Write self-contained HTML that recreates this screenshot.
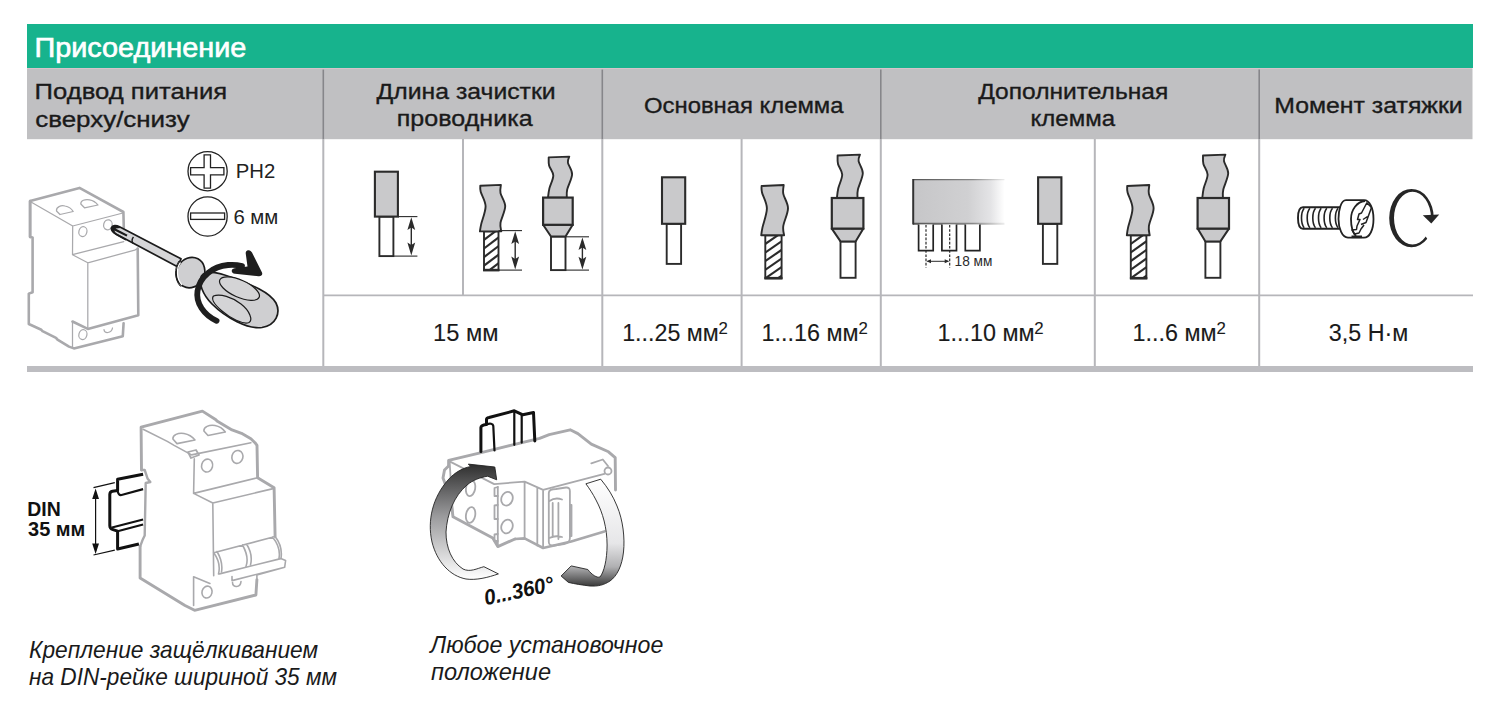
<!DOCTYPE html>
<html><head><meta charset="utf-8">
<style>
html,body{margin:0;padding:0;background:#fff;width:1500px;height:705px;overflow:hidden}
svg{display:block}
text{font-family:"Liberation Sans",sans-serif}
</style></head>
<body>
<svg width="1500" height="705" viewBox="0 0 1500 705">
<rect x="0" y="0" width="1500" height="705" fill="#fff"/>
<rect x="27" y="24" width="1446" height="44" fill="#17b38d"/>
<rect x="27" y="69" width="1445.5" height="70.2" fill="#c0c0c2"/>
<rect x="27" y="68" width="1445.5" height="1" fill="#d6c4cb"/>
<line x1="323.3" y1="69.6" x2="323.3" y2="139" stroke="#86868a" stroke-width="1.6"/>
<line x1="602.3" y1="69.6" x2="602.3" y2="139" stroke="#86868a" stroke-width="1.6"/>
<line x1="880.8" y1="69.6" x2="880.8" y2="139" stroke="#86868a" stroke-width="1.6"/>
<line x1="1259.2" y1="69.6" x2="1259.2" y2="139" stroke="#86868a" stroke-width="1.6"/>
<line x1="323.3" y1="139" x2="323.3" y2="366" stroke="#b6b6ba" stroke-width="2"/>
<line x1="463" y1="139" x2="463" y2="295" stroke="#b6b6ba" stroke-width="2"/>
<line x1="602.3" y1="139" x2="602.3" y2="366" stroke="#b6b6ba" stroke-width="2"/>
<line x1="741.6" y1="139" x2="741.6" y2="366" stroke="#b6b6ba" stroke-width="2"/>
<line x1="880.8" y1="139" x2="880.8" y2="366" stroke="#b6b6ba" stroke-width="2"/>
<line x1="1094.8" y1="139" x2="1094.8" y2="366" stroke="#b6b6ba" stroke-width="2"/>
<line x1="1259.2" y1="139" x2="1259.2" y2="366" stroke="#b6b6ba" stroke-width="2"/>
<line x1="323" y1="295.3" x2="1473" y2="295.3" stroke="#b6b6ba" stroke-width="1.8"/>
<rect x="27" y="366" width="1446" height="6" fill="#bdbdc1"/>
<text x="34.5" y="56.7" font-size="27.5" font-weight="400" font-style="normal" fill="#fff" textLength="211.8" lengthAdjust="spacingAndGlyphs" stroke="#fff" stroke-width="0.65">Присоединение</text>
<text x="34.6" y="98.9" font-size="22.5" font-weight="400" font-style="normal" fill="#1a1a1a" textLength="192.5" lengthAdjust="spacingAndGlyphs" stroke="#1a1a1a" stroke-width="0.35">Подвод питания</text>
<text x="35.2" y="126.8" font-size="22.5" font-weight="400" font-style="normal" fill="#1a1a1a" textLength="154.5" lengthAdjust="spacingAndGlyphs" stroke="#1a1a1a" stroke-width="0.35">сверху/снизу</text>
<text x="376.6" y="98.5" font-size="22.5" font-weight="400" font-style="normal" fill="#1a1a1a" textLength="179" lengthAdjust="spacingAndGlyphs" stroke="#1a1a1a" stroke-width="0.35">Длина зачистки</text>
<text x="396.8" y="126.3" font-size="22.5" font-weight="400" font-style="normal" fill="#1a1a1a" textLength="135.8" lengthAdjust="spacingAndGlyphs" stroke="#1a1a1a" stroke-width="0.35">проводника</text>
<text x="644" y="113" font-size="22.5" font-weight="400" font-style="normal" fill="#1a1a1a" textLength="199.5" lengthAdjust="spacingAndGlyphs" stroke="#1a1a1a" stroke-width="0.35">Основная клемма</text>
<text x="978.2" y="98.5" font-size="22.5" font-weight="400" font-style="normal" fill="#1a1a1a" textLength="190" lengthAdjust="spacingAndGlyphs" stroke="#1a1a1a" stroke-width="0.35">Дополнительная</text>
<text x="1030.6" y="126.3" font-size="22.5" font-weight="400" font-style="normal" fill="#1a1a1a" textLength="84.4" lengthAdjust="spacingAndGlyphs" stroke="#1a1a1a" stroke-width="0.35">клемма</text>
<text x="1274.2" y="113.4" font-size="22.5" font-weight="400" font-style="normal" fill="#1a1a1a" textLength="188.5" lengthAdjust="spacingAndGlyphs" stroke="#1a1a1a" stroke-width="0.35">Момент затяжки</text>
<text x="433" y="340.6" font-size="23.5" font-weight="400" font-style="normal" fill="#1a1a1a" textLength="65.5" lengthAdjust="spacingAndGlyphs" stroke="#1a1a1a" stroke-width="0.12">15 мм</text>
<text x="622.2" y="340.6" font-size="23.5" font-weight="400" font-style="normal" fill="#1a1a1a" textLength="96.5" lengthAdjust="spacingAndGlyphs" stroke="#1a1a1a" stroke-width="0.12">1...25 мм</text>
<text x="718.4" y="333.6" font-size="16.8" font-weight="400" font-style="normal" fill="#1a1a1a" stroke="#1a1a1a" stroke-width="0.12">2</text>
<text x="761.6" y="340.6" font-size="23.5" font-weight="400" font-style="normal" fill="#1a1a1a" textLength="97" lengthAdjust="spacingAndGlyphs" stroke="#1a1a1a" stroke-width="0.12">1...16 мм</text>
<text x="858.4" y="333.6" font-size="16.8" font-weight="400" font-style="normal" fill="#1a1a1a" stroke="#1a1a1a" stroke-width="0.12">2</text>
<text x="937.6" y="340.6" font-size="23.5" font-weight="400" font-style="normal" fill="#1a1a1a" textLength="97" lengthAdjust="spacingAndGlyphs" stroke="#1a1a1a" stroke-width="0.12">1...10 мм</text>
<text x="1034.3" y="333.6" font-size="16.8" font-weight="400" font-style="normal" fill="#1a1a1a" stroke="#1a1a1a" stroke-width="0.12">2</text>
<text x="1132.6" y="340.6" font-size="23.5" font-weight="400" font-style="normal" fill="#1a1a1a" textLength="84" lengthAdjust="spacingAndGlyphs" stroke="#1a1a1a" stroke-width="0.12">1...6 мм</text>
<text x="1216.5" y="333.6" font-size="16.8" font-weight="400" font-style="normal" fill="#1a1a1a" stroke="#1a1a1a" stroke-width="0.12">2</text>
<text x="1328.8" y="340.6" font-size="23.5" font-weight="400" font-style="normal" fill="#1a1a1a" textLength="79.5" lengthAdjust="spacingAndGlyphs" stroke="#1a1a1a" stroke-width="0.12">3,5 Н·м</text>
<rect x="379.4" y="216.6" width="14.0" height="39.50000000000003" fill="#fff" stroke="#2b2b2b" stroke-width="1.9"/>
<rect x="374.9" y="171.7" width="23.0" height="44.900000000000006" fill="#c9c9cb" stroke="#2b2b2b" stroke-width="2.1"/>
<g stroke="#2b2b2b" stroke-width="1.1"><line x1="398" y1="216.6" x2="417.4" y2="216.6"/><line x1="393.4" y1="256.1" x2="417.4" y2="256.1"/><line x1="411.3" y1="220.6" x2="411.3" y2="252.10000000000002" stroke-width="1.4"/></g>
<path d="M411.3,217.2 L407.40000000000003,230.1 L411.3,227.6 L415.2,230.1 Z M411.3,255.50000000000003 L407.40000000000003,242.60000000000002 L411.3,245.10000000000002 L415.2,242.60000000000002 Z" fill="#2b2b2b"/>
<clipPath id="hc1"><rect x="484" y="231.4" width="14.5" height="38.70000000000002"/></clipPath>
<rect x="484" y="231.4" width="14.5" height="38.70000000000002" fill="#fff"/>
<g clip-path="url(#hc1)" stroke="#2b2b2b" stroke-width="2.1"><line x1="482" y1="241.4" x2="500.5" y2="227.4" /><line x1="482" y1="250.0" x2="500.5" y2="236.0" /><line x1="482" y1="258.6" x2="500.5" y2="244.6" /><line x1="482" y1="267.2" x2="500.5" y2="253.2" /><line x1="482" y1="275.8" x2="500.5" y2="261.8" /><line x1="482" y1="284.40000000000003" x2="500.5" y2="270.40000000000003" /><line x1="482" y1="293.00000000000006" x2="500.5" y2="279.00000000000006" /><line x1="482" y1="301.6000000000001" x2="500.5" y2="287.6000000000001" /></g>
<rect x="484" y="231.4" width="14.5" height="38.70000000000002" fill="none" stroke="#2b2b2b" stroke-width="1.9"/>
<line x1="483.1" y1="270.1" x2="499.4" y2="270.1" stroke="#2b2b2b" stroke-width="2.6"/>
<path d="M480.30,185.80 L500.90,184.89 C500.83,186.26 499.78,189.52 500.50,193.10 C501.22,196.67 505.20,201.38 505.20,206.32 C505.20,211.26 501.15,218.56 500.50,222.74 C499.85,226.92 501.17,229.96 501.30,231.40 L479.90,231.40 C480.12,230.18 480.25,228.28 481.20,224.10 C482.15,219.92 485.68,211.72 485.60,206.32 C485.52,200.92 481.58,195.15 480.70,191.73 C479.82,188.31 480.37,186.79 480.30,185.80 Z" fill="#c9c9cb" stroke="#2b2b2b" stroke-width="1.9" stroke-linejoin="round"/>
<g stroke="#2b2b2b" stroke-width="1.1"><line x1="498.5" y1="230.6" x2="522" y2="230.6"/><line x1="498.5" y1="270.1" x2="522" y2="270.1"/><line x1="515.2" y1="234.6" x2="515.2" y2="266.1" stroke-width="1.4"/></g>
<path d="M515.2,231.2 L511.30000000000007,244.1 L515.2,241.6 L519.1,244.1 Z M515.2,269.5 L511.30000000000007,256.6 L515.2,259.1 L519.1,256.6 Z" fill="#2b2b2b"/>
<path d="M548.70,157.40 L569.30,156.60 C569.07,157.60 567.43,159.68 567.90,162.63 C568.37,165.57 572.22,169.79 572.10,174.28 C571.98,178.77 568.08,185.67 567.20,189.56 C566.32,193.45 566.87,196.26 566.80,197.60 L548.00,197.60 C548.23,196.06 548.52,192.04 549.40,188.35 C550.28,184.67 553.35,179.31 553.30,175.49 C553.25,171.67 549.87,168.45 549.10,165.44 C548.33,162.43 548.77,158.74 548.70,157.40 Z" fill="#c9c9cb" stroke="#2b2b2b" stroke-width="1.9" stroke-linejoin="round"/>
<rect x="551" y="236.5" width="14.5" height="33.60000000000002" fill="#fff" stroke="#2b2b2b" stroke-width="1.9"/>
<path d="M543.1,224.8 L551,236.5 L565.5,236.5 L572.7,224.8 Z" fill="#c9c9cb" stroke="#2b2b2b" stroke-width="2" stroke-linejoin="round"/>
<rect x="543.1" y="197.60000000000002" width="29.600000000000023" height="27.19999999999999" fill="#c9c9cb" stroke="#2b2b2b" stroke-width="2.2"/>
<g stroke="#2b2b2b" stroke-width="1.1"><line x1="565.5" y1="236.8" x2="589" y2="236.8"/><line x1="565.5" y1="270.1" x2="589" y2="270.1"/><line x1="582.4" y1="240.8" x2="582.4" y2="266.1" stroke-width="1.4"/></g>
<path d="M582.4,237.4 L578.5,250.12 L582.4,247.62 L586.3,250.12 Z M582.4,269.5 L578.5,256.78000000000003 L582.4,259.28000000000003 L586.3,256.78000000000003 Z" fill="#2b2b2b"/>
<rect x="666.7" y="223.8" width="14.399999999999977" height="40.099999999999966" fill="#fff" stroke="#2b2b2b" stroke-width="1.9"/>
<rect x="662" y="177.3" width="23.200000000000045" height="46.5" fill="#c9c9cb" stroke="#2b2b2b" stroke-width="2.1"/>
<clipPath id="hc2"><rect x="765.3" y="235.3" width="16.300000000000068" height="42.89999999999998"/></clipPath>
<rect x="765.3" y="235.3" width="16.300000000000068" height="42.89999999999998" fill="#fff"/>
<g clip-path="url(#hc2)" stroke="#2b2b2b" stroke-width="2.1"><line x1="763.3" y1="245.3" x2="783.6" y2="231.3" /><line x1="763.3" y1="253.9" x2="783.6" y2="239.9" /><line x1="763.3" y1="262.5" x2="783.6" y2="248.5" /><line x1="763.3" y1="271.1" x2="783.6" y2="257.1" /><line x1="763.3" y1="279.70000000000005" x2="783.6" y2="265.70000000000005" /><line x1="763.3" y1="288.30000000000007" x2="783.6" y2="274.30000000000007" /><line x1="763.3" y1="296.9000000000001" x2="783.6" y2="282.9000000000001" /><line x1="763.3" y1="305.5000000000001" x2="783.6" y2="291.5000000000001" /></g>
<rect x="765.3" y="235.3" width="16.300000000000068" height="42.89999999999998" fill="none" stroke="#2b2b2b" stroke-width="1.9"/>
<line x1="764.4" y1="278.2" x2="782.5" y2="278.2" stroke="#2b2b2b" stroke-width="2.6"/>
<path d="M761.60,186.00 L783.70,185.01 C783.63,186.49 782.58,190.03 783.30,193.89 C784.02,197.75 788.00,202.84 788.00,208.19 C788.00,213.53 783.95,221.41 783.30,225.93 C782.65,230.45 783.97,233.74 784.10,235.30 L761.20,235.30 C761.42,233.99 761.55,231.93 762.50,227.41 C763.45,222.89 766.98,214.02 766.90,208.19 C766.82,202.35 762.88,196.11 762.00,192.41 C761.12,188.71 761.67,187.07 761.60,186.00 Z" fill="#c9c9cb" stroke="#2b2b2b" stroke-width="1.9" stroke-linejoin="round"/>
<path d="M837.60,155.50 L860.00,154.65 C859.77,155.71 858.13,157.91 858.60,161.03 C859.07,164.14 862.92,168.60 862.80,173.35 C862.68,178.10 858.78,185.39 857.90,189.50 C857.02,193.61 857.57,196.58 857.50,198.00 L836.90,198.00 C837.13,196.37 837.42,192.12 838.30,188.22 C839.18,184.33 842.25,178.66 842.20,174.62 C842.15,170.59 838.77,167.19 838.00,164.00 C837.23,160.81 837.67,156.92 837.60,155.50 Z" fill="#c9c9cb" stroke="#2b2b2b" stroke-width="1.9" stroke-linejoin="round"/>
<rect x="840.5" y="241.4" width="15.100000000000023" height="36.400000000000006" fill="#fff" stroke="#2b2b2b" stroke-width="1.9"/>
<path d="M831.8,228.6 L840.5,241.4 L855.6,241.4 L863.4,228.6 Z" fill="#c9c9cb" stroke="#2b2b2b" stroke-width="2" stroke-linejoin="round"/>
<rect x="831.8" y="198.0" width="31.600000000000023" height="30.599999999999994" fill="#c9c9cb" stroke="#2b2b2b" stroke-width="2.2"/>
<rect x="1042.9" y="223.8" width="14.399999999999864" height="40.099999999999966" fill="#fff" stroke="#2b2b2b" stroke-width="1.9"/>
<rect x="1038.1" y="177.3" width="23.300000000000182" height="46.5" fill="#c9c9cb" stroke="#2b2b2b" stroke-width="2.1"/>
<clipPath id="hc3"><rect x="1130.8" y="235.3" width="15.600000000000136" height="42.89999999999998"/></clipPath>
<rect x="1130.8" y="235.3" width="15.600000000000136" height="42.89999999999998" fill="#fff"/>
<g clip-path="url(#hc3)" stroke="#2b2b2b" stroke-width="2.1"><line x1="1128.8" y1="245.3" x2="1148.4" y2="231.3" /><line x1="1128.8" y1="253.9" x2="1148.4" y2="239.9" /><line x1="1128.8" y1="262.5" x2="1148.4" y2="248.5" /><line x1="1128.8" y1="271.1" x2="1148.4" y2="257.1" /><line x1="1128.8" y1="279.70000000000005" x2="1148.4" y2="265.70000000000005" /><line x1="1128.8" y1="288.30000000000007" x2="1148.4" y2="274.30000000000007" /><line x1="1128.8" y1="296.9000000000001" x2="1148.4" y2="282.9000000000001" /><line x1="1128.8" y1="305.5000000000001" x2="1148.4" y2="291.5000000000001" /></g>
<rect x="1130.8" y="235.3" width="15.600000000000136" height="42.89999999999998" fill="none" stroke="#2b2b2b" stroke-width="1.9"/>
<line x1="1129.8999999999999" y1="278.2" x2="1147.3000000000002" y2="278.2" stroke="#2b2b2b" stroke-width="2.6"/>
<path d="M1127.20,186.00 L1149.30,185.01 C1149.23,186.49 1148.18,190.03 1148.90,193.89 C1149.62,197.75 1153.60,202.84 1153.60,208.19 C1153.60,213.53 1149.55,221.41 1148.90,225.93 C1148.25,230.45 1149.57,233.74 1149.70,235.30 L1126.80,235.30 C1127.02,233.99 1127.15,231.93 1128.10,227.41 C1129.05,222.89 1132.58,214.02 1132.50,208.19 C1132.42,202.35 1128.48,196.11 1127.60,192.41 C1126.72,188.71 1127.27,187.07 1127.20,186.00 Z" fill="#c9c9cb" stroke="#2b2b2b" stroke-width="1.9" stroke-linejoin="round"/>
<path d="M1203.00,155.50 L1225.40,154.65 C1225.17,155.71 1223.53,157.91 1224.00,161.03 C1224.47,164.14 1228.32,168.60 1228.20,173.35 C1228.08,178.10 1224.18,185.39 1223.30,189.50 C1222.42,193.61 1222.97,196.58 1222.90,198.00 L1202.30,198.00 C1202.53,196.37 1202.82,192.12 1203.70,188.22 C1204.58,184.33 1207.65,178.66 1207.60,174.62 C1207.55,170.59 1204.17,167.19 1203.40,164.00 C1202.63,160.81 1203.07,156.92 1203.00,155.50 Z" fill="#c9c9cb" stroke="#2b2b2b" stroke-width="1.9" stroke-linejoin="round"/>
<rect x="1205.4" y="241.4" width="15.0" height="36.400000000000006" fill="#fff" stroke="#2b2b2b" stroke-width="1.9"/>
<path d="M1197.6,228.6 L1205.4,241.4 L1220.4,241.4 L1229,228.6 Z" fill="#c9c9cb" stroke="#2b2b2b" stroke-width="2" stroke-linejoin="round"/>
<rect x="1197.6" y="198.0" width="31.40000000000009" height="30.599999999999994" fill="#c9c9cb" stroke="#2b2b2b" stroke-width="2.2"/>
<defs><linearGradient id="bb" x1="0" x2="1" y1="0" y2="0"><stop offset="0" stop-color="#c6c6c8"/><stop offset="0.6" stop-color="#d0d0d2"/><stop offset="0.85" stop-color="#e4e4e6"/><stop offset="1" stop-color="#fff"/></linearGradient><linearGradient id="bbs" gradientUnits="userSpaceOnUse" x1="913" x2="1005" y1="0" y2="0"><stop offset="0" stop-color="#555"/><stop offset="0.65" stop-color="#888"/><stop offset="1" stop-color="#eee"/></linearGradient></defs>
<rect x="913" y="179.6" width="91.5" height="44.2" fill="url(#bb)"/>
<line x1="913" y1="179.6" x2="1004.5" y2="179.6" stroke="url(#bbs)" stroke-width="1.2"/>
<line x1="913" y1="223.8" x2="1004.5" y2="223.8" stroke="url(#bbs)" stroke-width="2"/>
<line x1="913.2" y1="179" x2="913.2" y2="224.5" stroke="#333" stroke-width="2"/>
<rect x="918.6" y="224.5" width="14.6" height="26.2" fill="#fff"/>
<path d="M918.6,224.6 V250.7 H933.2 V224.6" fill="none" stroke="#222" stroke-width="1.7"/>
<rect x="941.9" y="224.5" width="14.6" height="26.2" fill="#fff"/>
<path d="M941.9,224.6 V250.7 H956.5 V224.6" fill="none" stroke="#222" stroke-width="1.7"/>
<rect x="965.3" y="224.5" width="14.6" height="26.2" fill="#fff"/>
<path d="M965.3,224.6 V250.7 H979.9 V224.6" fill="none" stroke="#222" stroke-width="1.7"/>
<g stroke="#222" stroke-width="1.15" stroke-dasharray="2.6,1.6"><line x1="926" y1="225" x2="926" y2="267.5"/><line x1="949.7" y1="225" x2="949.7" y2="267.5"/></g>
<line x1="927.5" y1="261.3" x2="948.2" y2="261.3" stroke="#2b2b2b" stroke-width="1"/>
<path d="M926.5,261.3 L931,259.3 L931,263.3 Z M949.2,261.3 L944.7,259.3 L944.7,263.3 Z" fill="#2b2b2b"/>
<text x="954.6" y="266.4" font-size="14.6" font-weight="400" font-style="normal" fill="#2b2b2b" textLength="37.8" lengthAdjust="spacingAndGlyphs" >18 мм</text>
<g fill="none" stroke="#222" stroke-width="1.3"><circle cx="207.6" cy="171.2" r="19.6"/><path d="M204.1,154.9 H210.5 V167.7 H223.9 V174.8 H210.5 V188.2 H204.1 V174.8 H190.6 V167.7 H204.1 Z"/><circle cx="207.6" cy="216.5" r="19.6"/><rect x="190.6" y="213" width="34" height="6.4"/></g>
<text x="235.8" y="178.3" font-size="19.6" font-weight="400" font-style="normal" fill="#222" textLength="39.5" lengthAdjust="spacingAndGlyphs" >PH2</text>
<text x="233.4" y="223.7" font-size="19.6" font-weight="400" font-style="normal" fill="#222" textLength="45" lengthAdjust="spacingAndGlyphs" >6 мм</text>
<g stroke="#222" fill="#fff" stroke-width="1.9" stroke-linejoin="round"><path d="M1340,207.3 H1303 C1299.5,207.3 1298,212 1298,218 C1298,224 1299.5,228.7 1303,228.7 H1340 Z"/></g>
<g stroke="#222" fill="none" stroke-width="1.6"><path d="M1304.2,208.3 C1300.6,212.5 1300.6,223.5 1304.2,227.8"/><path d="M1309.9,208.3 C1306.3,212.5 1306.3,223.5 1309.9,227.8"/><path d="M1315.5,208.3 C1311.9,212.5 1311.9,223.5 1315.5,227.8"/><path d="M1321.2,208.3 C1317.6,212.5 1317.6,223.5 1321.2,227.8"/><path d="M1326.8,208.3 C1323.2,212.5 1323.2,223.5 1326.8,227.8"/><path d="M1332.5,208.3 C1328.9,212.5 1328.9,223.5 1332.5,227.8"/><path d="M1338.1,208.3 C1334.5,212.5 1334.5,223.5 1338.1,227.8"/></g>
<g stroke="#222" fill="#fff" stroke-width="1.8" stroke-linejoin="round"><path d="M1346,200.2 L1364,200.2 C1369.5,200.2 1373.5,208 1373.5,219 C1373.5,230 1369.5,237.7 1364,237.7 L1348,237.7 C1342,237.7 1338.5,228 1338.5,219 C1338.5,210 1341,200.2 1346,200.2 Z"/><path fill="none" d="M1365,201 C1357,201.5 1351,210 1351,219 C1351,227 1353,233 1356,236"/><path fill="none" stroke-width="1.5" d="M1366.5,202.5 L1370.5,206.5 L1371.5,207.5 M1367,202.5 L1361.5,213 L1359,214 L1357.5,219.5 L1360,219.5 L1357,226 L1356.5,229.5 L1352,230 L1354.5,234 L1359,233 L1361,229 L1364,225 M1371.5,207.5 L1366,222.5 L1361,224.5 M1363,219.5 L1367.5,216.5"/></g>
<path d="M1351.5,236.8 H1362" stroke="#222" stroke-width="2.6"/>
<defs><mask id="rotm"><rect x="1370" y="170" width="90" height="100" fill="#fff"/><path d="M1411.5,218 L1480,210 L1495,250 L1472.2,297.5 Z" fill="#000"/></mask></defs>
<path mask="url(#rotm)" fill-rule="evenodd" fill="#262626" d="M1433.8,218.1 A22.3,29.2 0 1 0 1389.2,218.1 A22.3,29.2 0 1 0 1433.8,218.1 Z M1431,218.1 A18.5,26.4 0 1 0 1394,218.1 A18.5,26.4 0 1 0 1431,218.1 Z"/>
<path fill="#262626" d="M1431.3,223.5 L1422.8,215.2 L1439.2,214.4 Z"/>
<g fill="none" stroke="#a9a9ac" stroke-linejoin="round" stroke-linecap="round">
<path stroke-width="2.6" d="M30.1,237 L30.1,201 L79.5,187.9 L123.4,212 L123.8,228"/>
<path stroke-width="2.6" d="M30.1,201 L30.1,237 L32.6,237.5 L32.6,292.2 L28.8,293.6 L28.8,324 L41.3,329.7 L42.5,331.2 L56,337.8 L57.5,339.6 L69,346.6 L73.9,348.4 L122.8,336.2 L123.6,323.2"/>
<path stroke-width="2.6" d="M137.7,248.5 L138.3,315.3 L87.8,328.9 L72.5,321.5"/>
<path stroke-width="1.25" d="M31,202 L72.7,226 L123,213 M72.7,226 L72.5,254.7 L87.8,262.8 L134.7,250.1 L137.7,248.5 M72.5,254.7 L123.8,241.7 M87.8,262.8 L87.8,328.9 M72.5,321.5 L72.5,347"/>
<ellipse stroke-width="1.25" cx="82.9" cy="231.6" rx="4" ry="5" transform="rotate(15 82.9 231.6)"/>
<ellipse stroke-width="1.25" cx="107.9" cy="224.8" rx="4.2" ry="5" transform="rotate(15 107.9 224.8)"/>
<ellipse stroke-width="1.25" cx="82.9" cy="334.6" rx="4" ry="5" transform="rotate(15 82.9 334.6)"/>
<path stroke-width="1.25" d="M104,329.5 C104,334 111.5,333.5 112.5,328"/>
<path stroke-width="1.25" d="M56.5,211 C56,207 61,205 65,206 C70,207 72,209.5 73.2,211.5 L60,214.5 Z"/>
<path stroke-width="1.25" d="M80.8,204 C80.5,200.5 85,199 89.5,199.8 C94,200.5 96.5,203 98,205 L84.5,207.8 Z"/>
</g>
<g stroke="#1b1b1b" stroke-linejoin="round">
<path fill="#d6d6d8" stroke-width="1.7" d="M111.6,227.6 C112.6,225.2 116,225 119.5,226.8 L181,258.8 L177.5,266.8 L116.5,234.2 C112.5,232 110.8,229.6 111.6,227.6 Z"/>
<path fill="none" stroke-width="1.4" d="M133.5,237 C131.8,239 131.8,241.5 133,243.5"/>
<path fill="#1b1b1b" stroke="none" d="M111.4,227.8 C111.8,225.6 114.5,225 117.5,226 L121,228 L115.5,228.5 L127.5,234.8 L126.5,236.5 L114.5,230.5 C114.5,232 116,233.5 118,234.5 L127,239.5 L125.5,240.5 L116,235.2 C112.5,233 110.9,230 111.4,227.8 Z"/>
<ellipse cx="190.6" cy="272.6" rx="13.8" ry="15.6" transform="rotate(28 190.6 272.6)" fill="#cfcfd1" stroke-width="1.7"/>
<path fill="none" stroke="#fff" stroke-width="1.2" d="M180.5,262.5 C176,268 176.5,279 182,285"/>
<path fill="none" stroke-width="1" d="M179,261 C174,268 174.5,280 180.5,286.5"/>
<path fill="#cfcfd1" stroke-width="1.7" d="M201.5,276 C206,270 216,271.5 232,277.5 C252,285 270,292 276,303 C281,313 276,325 262,327.5 C248,329.5 226,318 212,304 C203,295 198,283 201.5,276 Z"/>
<ellipse cx="239.5" cy="288.6" rx="21.5" ry="8.6" transform="rotate(24 239.5 288.6)" fill="#d4d4d6" stroke-width="1.2"/>
<path fill="#d4d4d6" stroke-width="1.2" d="M213.5,296 C220,293.5 232,297 241,304 C250,311 253,320 249,322.5 C243,325 230,318 222,311 C215,305 211,299 213.5,296 Z"/>
</g>
<path fill="none" stroke="#1e1e1e" stroke-width="5.8" stroke-linecap="round" d="M216.6,320.8 C204,315 195.5,303 197.5,291 C200,276 213,266.5 228,265 C234,264.5 238,265 242,266"/>
<path fill="#1e1e1e" d="M247.2,250.6 C249,249.5 251,250.5 252,252.5 L262,272.5 C263,275 261,276.5 258.5,276.2 L235,273.8 C231,273.4 230.5,269 234.5,268.2 L247.5,266.5 L245.8,254 C245.5,252.4 246,251.2 247.2,250.6 Z"/>
<g fill="none" stroke="#a9a9ac" stroke-linejoin="round" stroke-linecap="round">
<path stroke-width="2.9" d="M141.5,470 L141.1,427.2 L202.4,411.1 L215.9,419.8 L217,421 L232,429.9 L241.5,433.3 L250.9,438.7 L255,442.7 L257,445.4 L257.6,477.8 L274.1,487.7 L275.1,536.5 M140.1,546.6 L140.1,578 L185,605.5 L194.6,610.3 L255.9,595 L256.9,579.7"/>
<path stroke-width="2.4" d="M141.5,470 L144.7,470 L147.5,478.4 L150.3,482 L145.7,483 L144.7,535.5 L142.9,539.2 L140.1,546.6"/>
<path stroke-width="1.6" d="M143.1,429.3 L167.3,441.4 L174.1,445.4 L191.6,454.9 L250.9,442.7 M194.3,458.9 L193.6,493.4 L212.8,503 L273.2,488.6 M193.6,493.4 L257.6,477.8 M212.8,503 L213.7,575.8 M193.6,576.8 L193.6,605.5 M193.6,576.8 L209.9,583.5"/>
<path stroke-width="1.8" d="M188,452 L196,450 L199,455 L191,458 Z"/>
<ellipse stroke-width="1.6" cx="207.1" cy="465.6" rx="5.5" ry="6.5" transform="rotate(15 207.1 465.6)"/>
<ellipse stroke-width="1.6" cx="237.4" cy="456.9" rx="5.5" ry="6.5" transform="rotate(15 237.4 456.9)"/>
<ellipse stroke-width="1.6" cx="207" cy="592.1" rx="5" ry="6" transform="rotate(15 207 592.1)"/>
<path stroke-width="1.6" d="M232.5,582.5 C232.5,588 240.5,588 241,581.5"/>
<path stroke-width="1.6" d="M172.9,439 C172.5,435 178,432.5 184,433.5 C189.5,434.5 193,437.5 195,440 L177,443.6 Z"/>
<path stroke-width="1.6" d="M203.9,431 C203.5,427 209,424.5 215,425.5 C220.5,426.5 223.5,429.5 225.3,432 L208,435.5 Z"/>
<path stroke-width="1.6" d="M213.7,552.8 L275.1,536.5 M213.7,552.8 C219,560 220,568 218.5,574 M217,551.5 C221.5,559 222.5,566 221.5,572 M242.5,545 C247,553 248,561 246,566.5 M246.5,544 C251,551 252,559 250.5,565 M272.5,537 C279,545 280,553 279,558.5 M275.1,536.5 C281,544 282,552 281,558.5"/>
<path stroke-width="1.6" d="M219.5,573.9 L280.8,558.6 L285.6,560.5 L284.7,567.2 L256.9,574.9 L256.9,579.7 M284.7,567.2 L232,580.6 L232,576.5"/>
</g>
<g fill="none" stroke="#111" stroke-width="3" stroke-linejoin="round">
<path d="M143.1,474.2 L117.6,479.2 L117.6,490.6 L112.5,491.2 C110.5,491.5 109.8,492.5 109.8,494.5 L109.8,525.5 C109.8,527.5 111,529 113,529.6 L117.6,531.2 L117.6,549 L138.9,544"/>
<path stroke-width="2.2" d="M117.6,490.6 C118,494 119.5,495.5 121.5,495 L143.1,489.1 M112,527.5 L143.1,519.5 M117.6,531.2 L143.1,524.5"/>
</g>
<g stroke="#111" stroke-width="1.2" fill="none"><path d="M93.5,487.7 L114.8,482.7 M93.5,555 L114.8,550.1 M95.6,492 L95.6,551"/></g>
<path fill="#111" d="M95.6,488.5 L92.2,499 L99,499 Z M95.6,554 L92.2,543.5 L99,543.5 Z"/>
<text x="27.2" y="515.5" font-size="20.5" font-weight="700" font-style="normal" fill="#111" textLength="33.5" lengthAdjust="spacingAndGlyphs" >DIN</text>
<text x="28.1" y="535.8" font-size="20.5" font-weight="700" font-style="normal" fill="#111" textLength="57.3" lengthAdjust="spacingAndGlyphs" >35 мм</text>
<text x="29" y="658.2" font-size="23.2" font-weight="400" font-style="italic" fill="#1a1a1a" textLength="289" lengthAdjust="spacingAndGlyphs" >Крепление защёлкиванием</text>
<text x="29" y="684.6" font-size="23.2" font-weight="400" font-style="italic" fill="#1a1a1a" textLength="308" lengthAdjust="spacingAndGlyphs" >на DIN-рейке шириной 35 мм</text>
<text x="430.3" y="653" font-size="23.2" font-weight="400" font-style="italic" fill="#1a1a1a" textLength="233" lengthAdjust="spacingAndGlyphs" >Любое установочное</text>
<text x="431" y="680.3" font-size="23.2" font-weight="400" font-style="italic" fill="#1a1a1a" textLength="120" lengthAdjust="spacingAndGlyphs" >положение</text>
<defs><linearGradient id="ga1" x1="0" y1="0" x2="0" y2="1"><stop offset="0" stop-color="#2e2e2e"/><stop offset="0.45" stop-color="#9a9a9c"/><stop offset="1" stop-color="#fff"/></linearGradient><linearGradient id="ga2" x1="0" y1="0" x2="0" y2="1"><stop offset="0" stop-color="#fff"/><stop offset="0.6" stop-color="#e6e6e8"/><stop offset="0.82" stop-color="#b0b0b2"/><stop offset="1" stop-color="#3a3a3a"/></linearGradient></defs>
<g fill="none" stroke="#a9a9ac" stroke-linejoin="round" stroke-linecap="round">
<path stroke-width="2.9" d="M448.6,466 L448.6,460.4 L480.2,452.8 L539.6,438.4 L549.2,434.6 L570.2,429.8 L577.9,433.6 L591.3,444.1 L608.5,451.8 L615.2,457.6 L615.5,490"/>
<path stroke-width="2.9" d="M448.6,466 L444.5,470 L443,478 L446,486 L449.5,490 L453,516.8 L492.8,538 L497.8,546.6 L515,539"/>
<path stroke-width="1.8" d="M449.6,461.4 L494.2,484.1 L524.6,481.6 L543.1,489.9 L604.4,473.9 M591.3,463.3 L602.8,459.5 L608,466 M497.8,486.9 L497.8,546.6 M524.6,481.6 L524.6,538.4 M537.3,488 L537.3,545.5 M543.1,489.9 L543.1,548 M449.6,461.4 L453,516.8"/>
<path stroke-width="2.6" d="M515,539 L524.6,538.4 L543.1,548 L571.2,541.6 L604.4,531.4"/>
<path stroke-width="1.8" d="M548.8,493 C548.8,490 552,489 556,489 L566,487.5 C568.5,487.3 569.9,488.5 569.9,491 L569.9,538 C569.9,542 567,543.5 564,544 L554,545.5 C551,546 548.8,545 548.8,542 Z M552.7,503 L552.7,537 M558.4,503 L558.4,539 M549.5,501 C553,498.5 558,498 562,499.5 M569.9,505 L571.5,505 L571.5,536 L569.9,536 M549.5,538 C553,536 558,536 562,537"/>
<path stroke-width="1.8" d="M497.8,487 L494.5,488 L494.5,496 L497.8,496 M497.8,505 L494.5,505.5 L494.5,519 L497.8,519 M497.8,534 L494.5,534.5 L494.5,541 L497.8,541"/>
<ellipse stroke-width="1.8" cx="507" cy="498.7" rx="5.6" ry="7" transform="rotate(20 507 498.7)"/>
<ellipse stroke-width="1.8" cx="507" cy="526.5" rx="5.6" ry="7" transform="rotate(20 507 526.5)"/>
<ellipse stroke-width="1.8" cx="470.6" cy="488.2" rx="4.6" ry="8" transform="rotate(10 470.6 488.2)"/>
<ellipse stroke-width="1.8" cx="470.6" cy="515" rx="4.6" ry="8" transform="rotate(10 470.6 515)"/>
<circle stroke-width="1.8" cx="608" cy="471" r="3.5"/>
</g>
<g fill="none" stroke="#111" stroke-width="3" stroke-linejoin="round" stroke-linecap="round">
<path d="M480.9,451.6 L480.9,427.5 C481,426 482,425 486.5,424.4 L486.5,419.5 C486.5,418.5 487.5,417.8 489,417.5 L514.3,410.8 L522.9,414.8 L533.5,412.5 L534.8,440.9"/>
<path stroke-width="2.2" d="M486.5,424.4 C490,423 493,423.5 493.3,426 L494.5,450.5 M514.3,411.5 L514.3,444.8 M521.7,415 L521.7,442.6"/>
</g>
<path fill="url(#ga1)" stroke="#222" stroke-width="0.9" stroke-linejoin="round" d="M498.4,573.9 C488,577.5 476,580.5 466,579 C450,576 437,562 432,542 C427,520 433,497 448,480 C455,472 463,468 470.7,466.5 L468.3,464.1 L494.8,467 L496.7,479.8 L487.6,476.2 C480,477.5 473,480 467,485 C454,496 447,514 446,532 C446,548 452,562 463,569 C470,572.5 477,568.5 483.9,566.7 Z"/>
<path fill="url(#ga2)" stroke="#222" stroke-width="0.9" stroke-linejoin="round" d="M585.9,483.8 L600.7,479.2 C608,488 613,496 617,506 C623,520 625,538 623.5,552 C622,566 617,576 610,581 C604,585 598,586.5 590,586 C582,585 575,584 568.4,582.4 L561.1,576 L571.2,565.9 L587.8,569.5 C592,575 597,578 600,577 C604,572 607,560 607.1,545 C607,528 603,513 596,500 C593,494 589,488 585.9,483.8 Z"/>
<g transform="rotate(-12 518 590)">
<text x="483.2" y="598.3" font-size="21.5" font-weight="700" font-style="italic" fill="#111" textLength="70.5" lengthAdjust="spacingAndGlyphs" >0...360°</text>
</g>
</svg>
</body></html>
